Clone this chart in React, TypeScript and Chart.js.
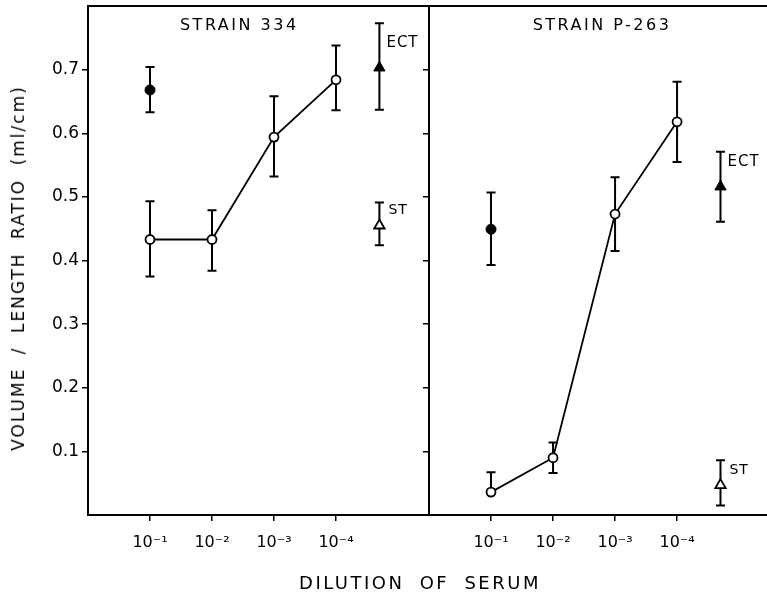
import React, { useEffect, useRef } from "react";
import { Chart, registerables } from "chart.js";

Chart.register(...registerables);

// ---- data ----
const dilutionX = [1, 2, 3, 4];
const dilutionLabels = ["10⁻¹", "10⁻²", "10⁻³", "10⁻⁴"];
const controlX = 4.7;
const yTickValues = [0.1, 0.2, 0.3, 0.4, 0.5, 0.6, 0.7];

// Strain 334
const s334SerumMean = [0.433, 0.433, 0.594, 0.684];
const s334SerumHigh = [0.493, 0.479, 0.658, 0.738];
const s334SerumLow = [0.375, 0.384, 0.532, 0.636];
const s334Solid = [0.668, 0.704, 0.633]; // mean, high, low at 10^-1
const s334ECT = [0.703, 0.773, 0.637];
const s334ST = [0.455, 0.491, 0.424];

// Strain P-263
const p263SerumMean = [0.036, 0.09, 0.473, 0.618];
const p263SerumHigh = [0.067, 0.114, 0.531, 0.681];
const p263SerumLow = [0.036, 0.066, 0.415, 0.555];
const p263Solid = [0.449, 0.507, 0.393];
const p263ECT = [0.516, 0.571, 0.461];
const p263ST = [0.047, 0.086, 0.015];

const FONT = "'DejaVu Sans', 'Liberation Sans', sans-serif";

const pt = (x: number, trio: number[]) => ({ x, y: trio[0], yMax: trio[1], yMin: trio[2] });

function buildDatasets(mean: number[], hi: number[], lo: number[], solid: number[], ect: number[], st: number[]) {
  return [
    {
      label: "serum",
      data: dilutionX.map((x, i) => ({ x, y: mean[i], yMax: hi[i], yMin: lo[i] })),
      showLine: true,
      borderColor: "#000",
      borderWidth: 1.8,
      pointRadius: 4.5,
      pointBorderWidth: 1.8,
      pointBackgroundColor: "#fff",
      pointBorderColor: "#000",
    },
    {
      label: "solid",
      data: [pt(dilutionX[0], solid)],
      showLine: false,
      pointRadius: 5,
      pointBackgroundColor: "#000",
      pointBorderColor: "#000",
    },
    {
      label: "ECT",
      tag: "ECT",
      data: [pt(controlX, ect)],
      showLine: false,
      pointStyle: "triangle",
      pointRadius: 6.5,
      pointBackgroundColor: "#000",
      pointBorderColor: "#000",
    },
    {
      label: "ST",
      tag: "ST",
      data: [pt(controlX, st)],
      showLine: false,
      pointStyle: "triangle",
      pointRadius: 6,
      pointBorderWidth: 1.8,
      pointBackgroundColor: "#fff",
      pointBorderColor: "#000",
    },
  ];
}

const errorBarPlugin = {
  id: "errorBars",
  beforeDatasetsDraw(chart: any) {
    const ctx = chart.ctx;
    const ys = chart.scales.y;
    ctx.save();
    ctx.strokeStyle = "#000";
    ctx.lineWidth = 2;
    chart.data.datasets.forEach((ds: any, di: number) => {
      const meta = chart.getDatasetMeta(di);
      meta.data.forEach((el: any, i: number) => {
        const raw = ds.data[i];
        const top = ys.getPixelForValue(raw.yMax);
        const bot = ys.getPixelForValue(raw.yMin);
        ctx.beginPath();
        ctx.moveTo(el.x, top);
        ctx.lineTo(el.x, bot);
        ctx.moveTo(el.x - 4.5, top);
        ctx.lineTo(el.x + 4.5, top);
        if (raw.yMin < raw.y) {
          ctx.moveTo(el.x - 4.5, bot);
          ctx.lineTo(el.x + 4.5, bot);
        }
        ctx.stroke();
      });
    });
    ctx.restore();
  },
};

const textPlugin = {
  id: "panelText",
  afterDraw(chart: any) {
    const ctx = chart.ctx;
    const area = chart.chartArea;
    const xs = chart.scales.x;
    const opts = chart.options.plugins.panelText;
    ctx.save();
    // top frame line
    ctx.strokeStyle = "#000";
    ctx.lineWidth = 2;
    ctx.beginPath();
    ctx.moveTo(area.left, area.top);
    ctx.lineTo(area.right, area.top);
    ctx.stroke();
    // title
    ctx.fillStyle = "#000";
    ctx.font = `16px ${FONT}`;
    (ctx as any).letterSpacing = "2.5px";
    ctx.textAlign = "center";
    ctx.textBaseline = "middle";
    ctx.fillText(opts.title, xs.getPixelForValue(opts.titleAt), area.top + 20);
    // control labels
    ctx.textAlign = "left";
    (ctx as any).letterSpacing = "1px";
    chart.data.datasets.forEach((ds: any, di: number) => {
      if (!ds.tag) return;
      const el = chart.getDatasetMeta(di).data[0];
      if (ds.tag === "ECT") {
        ctx.font = `15px ${FONT}`;
        ctx.fillText("ECT", el.x + 7, el.y - 25);
      } else {
        ctx.font = `14px ${FONT}`;
        ctx.fillText("ST", el.x + 9, el.y - 15);
      }
    });
    ctx.restore();
  },
};

function makeChart(canvas: HTMLCanvasElement, cfg: any) {
  return new Chart(canvas, {
    type: "scatter",
    data: { datasets: cfg.datasets as any },
    plugins: [errorBarPlugin, textPlugin],
    options: {
      animation: false,
      responsive: false,
      events: [],
      layout: { autoPadding: false, padding: { top: 6, right: cfg.padRight, left: 0, bottom: 0 } },
      plugins: {
        legend: { display: false },
        tooltip: { enabled: false },
        panelText: { title: cfg.title, titleAt: cfg.titleAt },
      } as any,
      scales: {
        x: {
          type: "linear",
          min: 0,
          max: cfg.xMax,
          afterBuildTicks: (s: any) => {
            s.ticks = dilutionX.map((v) => ({ value: v }));
          },
          afterFit: (s: any) => {
            s.height = 81;
            s.paddingLeft = 0;
            s.paddingRight = 0;
          },
          border: { display: true, color: "#000", width: 2 },
          grid: { drawOnChartArea: false, drawTicks: true, tickLength: 6, color: "#000", lineWidth: 1.5 },
          ticks: {
            color: "#000",
            font: { family: FONT, size: 16 },
            padding: 12,
            maxRotation: 0,
            callback: (v: any) => dilutionLabels[dilutionX.indexOf(Number(v))] ?? "",
          },
        },
        y: {
          type: "linear",
          position: "left",
          min: 0,
          max: 0.8,
          afterBuildTicks: (s: any) => {
            s.ticks = yTickValues.map((v) => ({ value: v }));
          },
          afterFit: (s: any) => {
            s.width = cfg.yWidth;
            s.paddingTop = 0;
            s.paddingBottom = 0;
          },
          border: { display: true, color: "#000", width: 2 },
          grid: { drawOnChartArea: false, drawTicks: true, tickLength: 6, color: "#000", lineWidth: 1.5 },
          ticks: {
            display: cfg.showYLabels,
            color: "#000",
            font: { family: FONT, size: 17 },
            padding: 3,
            callback: (v: any) => Number(v).toFixed(1),
          },
        },
      },
    } as any,
  });
}

export default function App() {
  const leftRef = useRef<HTMLCanvasElement>(null);
  const rightRef = useRef<HTMLCanvasElement>(null);

  useEffect(() => {
    const left = makeChart(leftRef.current!, {
      datasets: buildDatasets(s334SerumMean, s334SerumHigh, s334SerumLow, s334Solid, s334ECT, s334ST),
      title: "STRAIN 334",
      titleAt: 2.44,
      xMax: 5.5,
      padRight: 3,
      yWidth: 88,
      showYLabels: true,
    });
    const right = makeChart(rightRef.current!, {
      datasets: buildDatasets(p263SerumMean, p263SerumHigh, p263SerumLow, p263Solid, p263ECT, p263ST),
      title: "STRAIN P-263",
      titleAt: 2.79,
      xMax: 5.45,
      padRight: 0,
      yWidth: 8,
      showYLabels: false,
    });
    return () => {
      left.destroy();
      right.destroy();
    };
  }, []);

  return (
    <div style={{ position: "absolute", left: 0, top: 0, width: 767, height: 596, background: "#fff", overflow: "hidden" }}>
      <canvas ref={leftRef} width={432} height={596} style={{ position: "absolute", left: 0, top: 0 }} />
      <canvas ref={rightRef} width={346} height={596} style={{ position: "absolute", left: 421, top: 0 }} />
      <div
        style={{
          position: "absolute",
          left: 18,
          top: 268,
          transform: "translate(-50%, -50%) rotate(-90deg)",
          whiteSpace: "nowrap",
          fontFamily: FONT,
          fontSize: 17,
          letterSpacing: "2px",
          wordSpacing: "6px",
          color: "#000",
        }}
      >
        VOLUME / LENGTH RATIO (ml/cm)
      </div>
      <div
        style={{
          position: "absolute",
          left: 420,
          top: 582,
          transform: "translate(-50%, -50%)",
          whiteSpace: "nowrap",
          fontFamily: FONT,
          fontSize: 18,
          letterSpacing: "2.5px",
          wordSpacing: "7px",
          color: "#000",
        }}
      >
        DILUTION OF SERUM
      </div>
    </div>
  );
}
